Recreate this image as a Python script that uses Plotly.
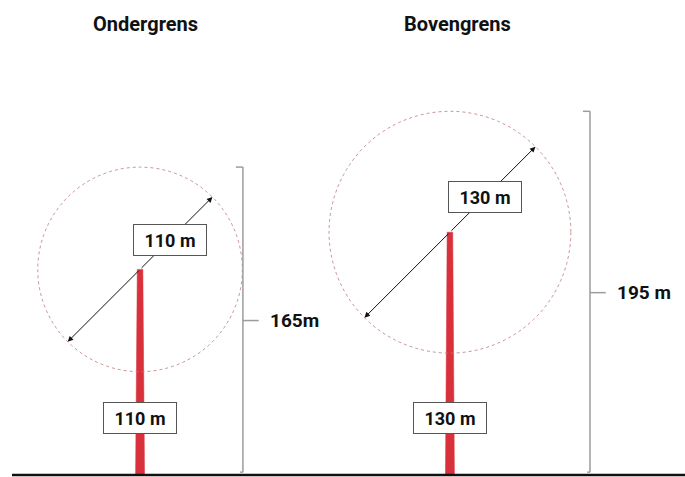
import math
import plotly.graph_objects as go

# ---- data ----
titles = ["Ondergrens", "Bovengrens"]
hub_height = [110, 130]          # m
rotor_diameter = [110, 130]      # m
tip_height = [165, 195]          # m
hub_labels = ["110 m", "130 m"]
diam_labels = ["110 m", "130 m"]
tip_labels = ["165m", "195 m"]

# ---- layout constants (metres on the axes) ----
W, H = 685, 477
S = 1.86                 # px per metre
GROUND_PX = 474
tower_x = [75.3, 241.9]
bracket_x = [130.6, 317.2]
title_x = [78.0, 246.2]
title_y = (GROUND_PX - 24) / S
RED = "#d9313b"
GRAY = "#9c9c9c"
FONT = "Roboto"

xr = [0, W / S]
yr = [-(H - GROUND_PX) / S, GROUND_PX / S]

fig = go.Figure()
shapes = []
annotations = []

# ground
shapes.append(dict(type="line", xref="x", yref="y", x0=12 / S, x1=W / S, y0=-0.6, y1=-0.6,
                   line=dict(color="#111111", width=2.5)))

for i in range(2):
    xc = tower_x[i]
    h = hub_height[i]
    r = rotor_diameter[i] / 2
    # tower (tapered)
    wb, wt = 4.8 / 2, 3.0 / 2
    fig.add_trace(go.Scatter(
        x=[xc - wb, xc - wt, xc + wt, xc + wb, xc - wb],
        y=[0, h, h, 0, 0], mode="lines", fill="toself",
        fillcolor=RED, line=dict(color=RED, width=0.5), hoverinfo="skip", showlegend=False))
    # rotor circle
    shapes.append(dict(type="circle", xref="x", yref="y", x0=xc - r, x1=xc + r, y0=h - r, y1=h + r,
                       line=dict(color="#b97878", width=0.8, dash="dot")))
    # diameter arrows (two halves from centre outward)
    c = math.cos(math.pi / 4)
    for sgn in (1, -1):
        annotations.append(dict(x=xc + sgn * r * c, y=h + sgn * r * c, ax=xc, ay=h,
                                xref="x", yref="y", axref="x", ayref="y", text="",
                                showarrow=True, arrowhead=2, arrowsize=1.1, arrowwidth=1,
                                arrowcolor="#111111", standoff=0, startstandoff=0))
    # diameter label on the arrow
    d = 0.41 * r
    annotations.append(dict(x=xc + d * c, y=h + d * c, xref="x", yref="y", text="<b>%s</b>" % diam_labels[i],
                            showarrow=False, bgcolor="white", bordercolor="#555555", borderwidth=1,
                            borderpad=2, width=68, height=26,
                            font=dict(family=FONT, size=18, color="#111111")))
    # hub height label on tower
    annotations.append(dict(x=xc, y=30, xref="x", yref="y", text="<b>%s</b>" % hub_labels[i],
                            showarrow=False, bgcolor="white", bordercolor="#555555", borderwidth=1,
                            borderpad=2, width=68, height=26,
                            font=dict(family=FONT, size=18, color="#111111")))
    # bracket for tip height
    bx = bracket_x[i]
    th = tip_height[i]
    shapes.append(dict(type="line", xref="x", yref="y", x0=bx, x1=bx, y0=1.0, y1=th,
                       line=dict(color=GRAY, width=1.5)))
    shapes.append(dict(type="line", xref="x", yref="y", x0=bx - 3.8, x1=bx, y0=th, y1=th,
                       line=dict(color=GRAY, width=1.5)))
    shapes.append(dict(type="line", xref="x", yref="y", x0=bx - 1.5, x1=bx, y0=1.0, y1=1.0,
                       line=dict(color=GRAY, width=1.5)))
    shapes.append(dict(type="line", xref="x", yref="y", x0=bx, x1=bx + 8.5, y0=th / 2, y1=th / 2,
                       line=dict(color=GRAY, width=1.5)))
    annotations.append(dict(x=bx + 13.3, y=th / 2, xref="x", yref="y", text="<b>%s</b>" % tip_labels[i],
                            showarrow=False, xanchor="left", yanchor="middle",
                            font=dict(family=FONT, size=19, color="#111111")))
    # title
    annotations.append(dict(x=title_x[i], y=title_y, xref="x", yref="y", text="<b>%s</b>" % titles[i],
                            showarrow=False, xanchor="center", yanchor="middle",
                            font=dict(family=FONT, size=20, color="#111111")))

fig.update_layout(
    width=W, height=H, margin=dict(l=0, r=0, t=0, b=0),
    paper_bgcolor="white", plot_bgcolor="white", showlegend=False,
    xaxis=dict(range=xr, visible=False, fixedrange=True),
    yaxis=dict(range=yr, visible=False, fixedrange=True),
    shapes=shapes, annotations=annotations,
)
fig.write_html("out.html", config={"displayModeBar": False},
               post_script="document.body.style.margin='0px';document.body.style.overflow='hidden';")
